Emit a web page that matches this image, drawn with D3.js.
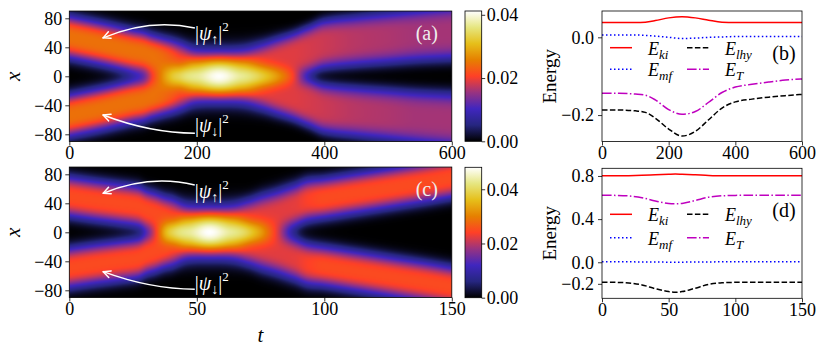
<!DOCTYPE html>
<html>
<head>
<meta charset="utf-8">
<script src="https://cdn.jsdelivr.net/npm/d3@7"></script>
<style>
body{margin:0;background:#fff}
</style>
</head>
<body>
<div id="fig"></div>
<script>
// panel (a): upper droplet track (lower one is its mirror)
let timesA = [0, 50, 100, 115, 130, 145, 160, 175, 200, 235, 270, 300, 325, 350, 375, 400, 450, 500, 550, 600];
let centreA = [54, 45, 35, 32.5, 28, 24.5, 21, 17, 9, 5, 9, 16, 22, 28, 36, 44, 49, 53, 57, 60];
let widthA = [29, 29, 29, 29, 29, 29, 29.5, 30, 30, 30, 30, 30, 31, 32, 33, 34, 35, 36, 37, 38];
let shapeA = [3, 3, 3, 3, 3, 3, 3, 3, 2.6, 2.4, 2.6, 3, 3.4, 3.8, 4, 4, 4, 4, 4, 4];
let peakA = [0.0245, 0.0245, 0.0245, 0.0245, 0.0245, 0.024, 0.0226, 0.0205, 0.0193, 0.0208, 0.0193, 0.0192, 0.0191, 0.019, 0.0185, 0.018, 0.017, 0.0165, 0.016, 0.016];

// panel (c)
let timesC = [0, 10, 20, 26.8, 30.3, 33.9, 37.4, 40.9, 46.8, 55, 63.2, 70.3, 76.2, 82, 87.9, 93.8, 100, 110, 120, 130, 140, 150];
let centreC = [49, 44, 39.5, 36, 30.5, 26, 21, 17, 9, 5, 9, 16, 22, 28, 36, 44, 47, 52.5, 58, 63.5, 69, 75];
let widthC = [28, 28, 28, 28, 28, 28.5, 29, 30, 30, 30, 30, 30, 31, 31, 30, 29, 28, 28, 28, 28, 28, 28];
let shapeC = [3, 3, 3, 3, 3, 3, 3, 3, 2.6, 2.4, 2.6, 3, 3, 3, 3, 3, 3, 3, 3, 3, 3, 3];
let peakC = [0.025, 0.025, 0.025, 0.025, 0.025, 0.025, 0.025, 0.0238, 0.0226, 0.0244, 0.0226, 0.0224, 0.0223, 0.0223, 0.0225, 0.024, 0.025, 0.025, 0.025, 0.025, 0.025, 0.025];

// panel (b) energies
let timesB = [0, 50, 100, 130, 160, 200, 240, 280, 320, 360, 400, 450, 500, 550, 600];
let ekiB = [0.038, 0.038, 0.038, 0.039, 0.043, 0.050, 0.053, 0.050, 0.044, 0.039, 0.038, 0.038, 0.038, 0.038, 0.038];
let emfB = [0.006, 0.006, 0.006, 0.005, 0.003, 0.000, -0.003, -0.002, 0.000, 0.001, 0.002, 0.002, 0.002, 0.002, 0.002];
let elhyB = [-0.187, -0.187, -0.189, -0.193, -0.208, -0.236, -0.254, -0.242, -0.212, -0.182, -0.166, -0.159, -0.154, -0.150, -0.147];
let etB = [-0.144, -0.144, -0.146, -0.149, -0.161, -0.186, -0.198, -0.191, -0.167, -0.142, -0.128, -0.121, -0.115, -0.110, -0.107];

// panel (d) energies
let timesD = [0, 10, 20, 30, 40, 50, 55, 60, 70, 80, 90, 100, 120, 150];
let ekiD = [0.802, 0.802, 0.803, 0.806, 0.811, 0.816, 0.818, 0.816, 0.811, 0.805, 0.802, 0.802, 0.802, 0.802];
let emfD = [0.004, 0.004, 0.004, 0.003, 0.002, 0.001, 0.000, 0.001, 0.002, 0.003, 0.004, 0.004, 0.004, 0.004];
let elhyD = [-0.185, -0.186, -0.192, -0.210, -0.245, -0.272, -0.278, -0.272, -0.240, -0.205, -0.190, -0.186, -0.185, -0.185];
let etD = [0.621, 0.620, 0.615, 0.599, 0.568, 0.545, 0.542, 0.545, 0.573, 0.603, 0.616, 0.620, 0.621, 0.621];

let xTicksA = [0, 200, 400, 600];
let xTicksC = [0, 50, 100, 150];
let posTicks = [-80, -40, 0, 40, 80];
let cbarTicks = [0, 0.02, 0.04];
let yTicksB = [-0.2, 0.0];
let yTicksD = [-0.2, 0.0, 0.4, 0.8];

let cmr = ["#000000", "#262680", "#4026bf", "#993380", "#ff4026", "#e68000", "#e6bf1a", "#e6e680", "#ffffff"];
let serif = '"Liberation Serif", "Times New Roman", serif';

let svg = d3.select("#fig").append("svg")
            .attr("width", 822)
            .attr("height", 351)
            .style("display", "block")
            .style("font-family", serif);
svg.append("rect").attr("width", 822).attr("height", 351).attr("fill", "#fff");
let defs = svg.append("defs");

// smooth monotone interpolation through the read-off samples
let monotone = function(xs, ys){
  let n = xs.length, d = [], m = [];
  for (let i = 0; i < n - 1; i++) d[i] = (ys[i + 1] - ys[i]) / (xs[i + 1] - xs[i]);
  m[0] = d[0]; m[n - 1] = d[n - 2];
  for (let i = 1; i < n - 1; i++){
    if (d[i - 1] * d[i] <= 0) { m[i] = 0; continue; }
    let h0 = xs[i] - xs[i - 1], h1 = xs[i + 1] - xs[i];
    let w1 = 2 * h1 + h0, w2 = h1 + 2 * h0;
    m[i] = (w1 + w2) / (w1 / d[i - 1] + w2 / d[i]);
  }
  return function(x){
    let i = Math.max(0, Math.min(n - 2, d3.bisectRight(xs, x) - 1));
    let h = xs[i + 1] - xs[i], s = (x - xs[i]) / h;
    let s2 = s * s, s3 = s2 * s;
    return (2 * s3 - 3 * s2 + 1) * ys[i] + (s3 - 2 * s2 + s) * h * m[i]
         + (-2 * s3 + 3 * s2) * ys[i + 1] + (s3 - s2) * h * m[i + 1];
  };
};

let styleAxis = function(g){
  g.attr("font-family", null).attr("font-size", null);
  g.select(".domain").remove();
  g.selectAll(".tick line").attr("stroke", "#000").attr("stroke-width", 0.8);
  g.selectAll(".tick text").attr("fill", "#000")
   .style("font-size", "18px").style("font-family", serif);
};

let psiLabel = function(x, y, arrow){
  let t = svg.append("text").attr("x", x).attr("y", y).attr("fill", "#fff").style("font-size", "20px");
  t.append("tspan").text("|");
  t.append("tspan").style("font-style", "italic").text("ψ");
  t.append("tspan").style("font-size", "14px").attr("dy", 4).text(arrow);
  t.append("tspan").attr("dy", -4).text("|");
  t.append("tspan").style("font-size", "13px").attr("dy", -9).text("2");
};

let curvedArrow = function(p0, p1, p2){
  svg.append("path")
     .attr("d", "M" + p0 + "Q" + p1 + " " + p2)
     .attr("fill", "none").attr("stroke", "#fff").attr("stroke-width", 1.5);
  let ang = Math.atan2(p2[1] - p1[1], p2[0] - p1[0]);
  [0.45, -0.45].forEach(function(da){
    let a = ang + Math.PI + da;
    svg.append("line")
       .attr("x1", p2[0]).attr("y1", p2[1])
       .attr("x2", p2[0] + 8 * Math.cos(a)).attr("y2", p2[1] + 8 * Math.sin(a))
       .attr("stroke", "#fff").attr("stroke-width", 1.5).attr("stroke-linecap", "round");
  });
};

let heat = function(box, times, centre, width, shape, peak, tMax, tTicks, vmax, cbar, tag, notes){
  let x = d3.scaleLinear().domain([0, tMax]).range([box.left, box.right]);
  let y = d3.scaleLinear().domain([-90, 90]).range([box.bottom, box.top]);
  let cS = monotone(times, centre);
  let wS = monotone(times, width);
  let pS = monotone(times, shape);
  let aS = monotone(times, peak);
  let color = d3.scaleLinear()
                .domain(d3.range(cmr.length).map(i => i / (cmr.length - 1) * vmax))
                .range(cmr)
                .clamp(true);

  let w = Math.round(box.right - box.left), h = Math.round(box.bottom - box.top);
  let canvas = document.createElement("canvas");
  canvas.width = w; canvas.height = h;
  let ctx = canvas.getContext("2d");
  let img = ctx.createImageData(w, h);
  for (let i = 0; i < w; i++){
    let t = x.invert(box.left + (i + 0.5) * (box.right - box.left) / w);
    let c = cS(t), s = wS(t), p = pS(t), a = aS(t);
    for (let j = 0; j < h; j++){
      let xv = y.invert(box.top + (j + 0.5) * (box.bottom - box.top) / h);
      let v = a * (Math.exp(-Math.pow(Math.abs(xv - c) / s, p)) + Math.exp(-Math.pow(Math.abs(xv + c) / s, p)));
      let rgb = d3.rgb(color(v));
      let k = (j * w + i) * 4;
      img.data[k] = rgb.r; img.data[k + 1] = rgb.g; img.data[k + 2] = rgb.b; img.data[k + 3] = 255;
    }
  }
  ctx.putImageData(img, 0, 0);
  svg.append("image")
     .attr("x", box.left).attr("y", box.top)
     .attr("width", box.right - box.left).attr("height", box.bottom - box.top)
     .attr("preserveAspectRatio", "none")
     .attr("href", canvas.toDataURL());

  svg.append("rect")
     .attr("x", box.left).attr("y", box.top)
     .attr("width", box.right - box.left).attr("height", box.bottom - box.top)
     .attr("fill", "none").attr("stroke", "#000").attr("stroke-width", 0.8);

  svg.append("g").attr("transform", "translate(0," + box.bottom + ")")
     .call(d3.axisBottom(x).tickValues(tTicks).tickSize(4).tickPadding(1).tickFormat(d3.format("d")))
     .call(styleAxis);
  svg.append("g").attr("transform", "translate(" + box.left + ",0)")
     .call(d3.axisLeft(y).tickValues(posTicks).tickSize(4).tickPadding(3).tickFormat(d3.format("d")))
     .call(styleAxis);

  svg.append("text")
     .attr("transform", "translate(20," + y(0) + ") rotate(-90)")
     .attr("text-anchor", "middle")
     .style("font-size", "21px").style("font-style", "italic")
     .text("x");

  svg.append("text")
     .attr("x", box.right - 25).attr("y", box.top + 29)
     .attr("text-anchor", "middle").attr("fill", "#eee")
     .style("font-size", "20px")
     .text(tag);

  // annotations with curved arrows
  notes.forEach(function(n){
    psiLabel(x(n.text[0]), y(n.text[1]), n.arrow);
    curvedArrow([x(n.from[0]), y(n.from[1])], [x(n.ctrl[0]), y(n.ctrl[1])], [x(n.tip[0]), y(n.tip[1])]);
  });

  // colour bar
  let cy = d3.scaleLinear().domain([0, vmax]).range([cbar.bottom, cbar.top]);
  let gid = "grad" + tag.replace(/\W/g, "");
  let grad = defs.append("linearGradient").attr("id", gid)
                 .attr("x1", 0).attr("y1", 1).attr("x2", 0).attr("y2", 0);
  cmr.forEach(function(c, i){
    grad.append("stop").attr("offset", i / (cmr.length - 1)).attr("stop-color", c);
  });
  svg.append("rect")
     .attr("x", cbar.left).attr("y", cbar.top)
     .attr("width", cbar.right - cbar.left).attr("height", cbar.bottom - cbar.top)
     .attr("fill", "url(#" + gid + ")")
     .attr("stroke", "#000").attr("stroke-width", 0.8);
  svg.append("g").attr("transform", "translate(" + cbar.right + ",0)")
     .call(d3.axisRight(cy).tickValues(cbarTicks).tickSize(3.5).tickPadding(1.5).tickFormat(d3.format(".2f")))
     .call(styleAxis);
};

let energy = function(box, times, series, tMax, tTicks, yDom, yTicks, tag, leg){
  let x = d3.scaleLinear().domain([0, tMax]).range([box.left, box.right]);
  let y = d3.scaleLinear().domain(yDom).range([box.bottom, box.top]);
  let line = d3.line()
               .x((d, i) => x(times[i]))
               .y(d => y(d))
               .curve(d3.curveMonotoneX);

  series.forEach(function(s){
    svg.append("path")
       .attr("d", line(s.vals))
       .attr("fill", "none")
       .attr("stroke", s.color)
       .attr("stroke-width", 1.5)
       .attr("stroke-dasharray", s.dash);
  });

  svg.append("rect")
     .attr("x", box.left).attr("y", box.top)
     .attr("width", box.right - box.left).attr("height", box.bottom - box.top)
     .attr("fill", "none").attr("stroke", "#000").attr("stroke-width", 0.8);

  svg.append("g").attr("transform", "translate(0," + box.bottom + ")")
     .call(d3.axisBottom(x).tickValues(tTicks).tickSize(4).tickPadding(1).tickFormat(d3.format("d")))
     .call(styleAxis);
  svg.append("g").attr("transform", "translate(" + box.left + ",0)")
     .call(d3.axisLeft(y).tickValues(yTicks).tickSize(4).tickPadding(4).tickFormat(d3.format(".1f")))
     .call(styleAxis);

  svg.append("text")
     .attr("transform", "translate(556," + (box.top + box.bottom) / 2 + ") rotate(-90)")
     .attr("text-anchor", "middle")
     .style("font-size", "19px")
     .text("Energy");

  svg.append("text")
     .attr("x", 784).attr("y", leg.tagY)
     .attr("text-anchor", "middle")
     .style("font-size", "20px")
     .text(tag);

  // legend, two columns
  series.forEach(function(s, i){
    let col = Math.floor(i / 2), row = i % 2;
    let lx = 610 + col * 77, ly = leg.top + row * leg.gap;
    svg.append("line")
       .attr("x1", lx).attr("x2", lx + 22).attr("y1", ly).attr("y2", ly)
       .attr("stroke", s.color).attr("stroke-width", 1.5).attr("stroke-dasharray", s.dash);
    let t = svg.append("text").attr("x", lx + 38).attr("y", ly + 7)
               .style("font-size", "18px").style("font-style", "italic");
    t.append("tspan").text("E");
    t.append("tspan").style("font-size", "13px").attr("dy", 4).text(s.sub);
  });
};

heat({left: 69.3, right: 451.8, top: 11.05, bottom: 141.55}, timesA, centreA, widthA, shapeA, peakA,
     600, xTicksA, 0.0412, {left: 465, right: 481.7, top: 11, bottom: 141.3}, "(a)",
     [{text: [197, 50], arrow: "↑", from: [197, 66.5], ctrl: [126.6, 80.4], tip: [53, 53]},
      {text: [197, -76.4], arrow: "↓", from: [197, -78.6], ctrl: [126.6, -78.2], tip: [53, -53.4]}]);

heat({left: 69.3, right: 451.8, top: 167.05, bottom: 297.55}, timesC, centreC, widthC, shapeC, peakC,
     150, xTicksC, 0.0481, {left: 465, right: 481.7, top: 167.3, bottom: 297.7}, "(c)",
     [{text: [49.2, 46.9], arrow: "↑", from: [49.2, 65.2], ctrl: [31.6, 80.4], tip: [13.3, 53.8]},
      {text: [49.2, -79.6], arrow: "↓", from: [49.2, -78.6], ctrl: [31.6, -78.2], tip: [13.3, -54.3]}]);

svg.append("text")
   .attr("x", 260.5).attr("y", 341.5)
   .attr("text-anchor", "middle")
   .style("font-size", "21px").style("font-style", "italic")
   .text("t");

energy({left: 602, right: 802, top: 11, bottom: 141.5}, timesB,
       [{sub: "ki", vals: ekiB, color: "#ff0000", dash: null},
        {sub: "mf", vals: emfB, color: "#0000ff", dash: "1.5,2.5"},
        {sub: "lhy", vals: elhyB, color: "#000000", dash: "5.5,2.4"},
        {sub: "T", vals: etB, color: "#bf00bf", dash: "9.6,2.4,1.5,2.4"}],
       600, xTicksA, [-0.268, 0.0677], yTicksB, "(b)", {top: 47.7, gap: 21.6, tagY: 60});

energy({left: 602, right: 802, top: 168.3, bottom: 298.3}, timesD,
       [{sub: "ki", vals: ekiD, color: "#ff0000", dash: null},
        {sub: "mf", vals: emfD, color: "#0000ff", dash: "1.5,2.5"},
        {sub: "lhy", vals: elhyD, color: "#000000", dash: "5.5,2.4"},
        {sub: "T", vals: etD, color: "#bf00bf", dash: "9.6,2.4,1.5,2.4"}],
       150, xTicksC, [-0.334, 0.871], yTicksD, "(d)", {top: 214.3, gap: 23.4, tagY: 217});
</script>
</body>
</html>
